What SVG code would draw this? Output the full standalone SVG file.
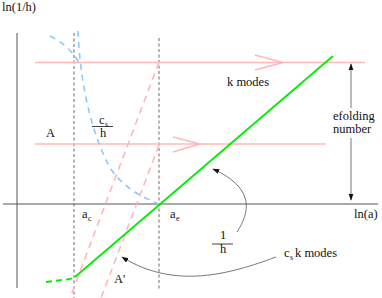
<svg xmlns="http://www.w3.org/2000/svg" width="382" height="298" viewBox="0 0 382 298">
<style>
text{font-family:"Liberation Serif","Times New Roman",serif;font-size:12.5px;fill:#111}
.sub{font-size:8px}
.axis{stroke:#555;stroke-width:1;fill:none}
.guide{stroke:#444;stroke-width:0.8;stroke-dasharray:3 2.5;fill:none}
.pink{stroke:#ffb8b8;stroke-width:1.6;fill:none}
.pinkd{stroke:#ffb8b8;stroke-width:1.6;fill:none;stroke-dasharray:7 5}
.blue{stroke:#88ccff;stroke-width:1.6;fill:none;stroke-dasharray:6 5}
.green{stroke:#00ee00;stroke-width:1.8;fill:none}
.greend{stroke:#00ee00;stroke-width:1.8;fill:none;stroke-dasharray:6 4}
.conn{stroke:#555;stroke-width:0.8;fill:none}
.bar{stroke:#111;stroke-width:0.8}
</style>
<defs>
<marker id="ah" viewBox="0 0 10 10" refX="9" refY="5" markerWidth="7" markerHeight="7" markerUnits="userSpaceOnUse" orient="auto">
<path d="M0,1.5 L10,5 L0,8.5 Z" fill="#111"/>
</marker>
</defs>
<g id="axes">
<line class="axis" x1="17" y1="33" x2="17" y2="288"/>
<line class="axis" x1="3" y1="204" x2="378" y2="204"/>
<line class="guide" x1="74" y1="33" x2="74" y2="298"/>
<line class="guide" x1="159" y1="38" x2="159" y2="289"/>
</g>
<g id="modes">
<line class="pink" x1="35" y1="62.5" x2="365" y2="62.5"/>
<polyline class="pink" points="255,55 283,62.5 255,70"/>
<line class="pink" x1="35" y1="144" x2="326" y2="144"/>
<polyline class="pink" points="173,137 200,144 173,152"/>
<line class="pinkd" x1="159" y1="62" x2="70" y2="298"/>
<line class="pinkd" x1="159" y1="145" x2="101" y2="298"/>
<path class="blue" d="M50,36 Q70,46 79,63"/>
<path class="blue" d="M78,31 C80,80 90,130 110,168 C125,190 145,198 159,204"/>
<path class="greend" d="M46,282 L70,279 Q74,278 76,276"/>
<line class="green" x1="75" y1="277" x2="333" y2="56"/>
</g>
<g id="connectors">
<line class="conn" x1="351" y1="108" x2="351" y2="64" marker-end="url(#ah)"/>
<line class="conn" x1="351" y1="138" x2="351" y2="200" marker-end="url(#ah)"/>
<path class="conn" d="M237,232 C250,212 255,188 213,169" marker-end="url(#ah)"/>
<path class="conn" d="M276,257 C230,274 175,290 122,257" marker-end="url(#ah)"/>
</g>
<g id="labels">
<text x="2" y="11">ln(1/h)</text>
<text x="227" y="86">k modes</text>
<text x="333" y="120">efolding</text>
<text x="333" y="133">number</text>
<text x="46" y="137">A</text>
<text x="99" y="124">c</text><text class="sub" x="105" y="127">s</text>
<line class="bar" x1="92" y1="126.5" x2="113" y2="126.5"/>
<text x="100" y="137">h</text>
<text x="82" y="218">a</text><text class="sub" x="88" y="221">c</text>
<text x="170" y="218">a</text><text class="sub" x="176" y="221">e</text>
<text x="354" y="218">ln(a)</text>
<text x="223" y="239" text-anchor="middle">1</text>
<line class="bar" x1="212" y1="244" x2="233" y2="244"/>
<text x="223" y="253" text-anchor="middle">h</text>
<text x="284" y="257">c</text><text class="sub" x="290" y="260">s</text>
<text x="295" y="257">k modes</text>
<text x="114" y="283">A'</text>
</g>
</svg>
